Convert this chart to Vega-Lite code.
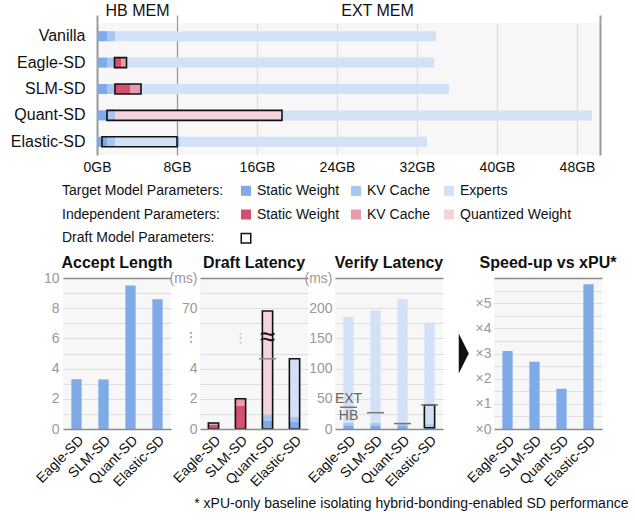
{
  "$schema": "https://vega.github.io/schema/vega-lite/v6.json",
  "padding": {"left": 3, "top": 2, "right": 5, "bottom": 5},
  "config": {
    "font": "Liberation Sans",
    "view": {"stroke": null},
    "title": {"font": "Liberation Sans"},
    "axis": {"labelFont": "Liberation Sans", "labelOverlap": false, "labelBound": false}
  },
  "title": {
    "text": "* xPU-only baseline isolating hybrid-bonding-enabled SD performance",
    "orient": "bottom",
    "anchor": "end",
    "fontSize": 14,
    "fontWeight": "normal",
    "color": "#111111",
    "offset": 8,
    "dx": 12
  },
  "datasets": {
    "memory": [
      {"model": "Vanilla", "part": "Target Static Weight", "start": 0, "end": 1},
      {"model": "Vanilla", "part": "Target KV Cache", "start": 1, "end": 1.8},
      {"model": "Vanilla", "part": "Experts", "start": 1.8, "end": 33.9},
      {"model": "Eagle-SD", "part": "Target Static Weight", "start": 0, "end": 1},
      {"model": "Eagle-SD", "part": "Target KV Cache", "start": 1, "end": 1.75},
      {"model": "Eagle-SD", "part": "Independent Static Weight", "start": 1.75, "end": 2.45},
      {"model": "Eagle-SD", "part": "Independent KV Cache", "start": 2.45, "end": 2.95},
      {"model": "Eagle-SD", "part": "Experts", "start": 2.95, "end": 33.7},
      {"model": "SLM-SD", "part": "Target Static Weight", "start": 0, "end": 1},
      {"model": "SLM-SD", "part": "Target KV Cache", "start": 1, "end": 1.8},
      {"model": "SLM-SD", "part": "Independent Static Weight", "start": 1.8, "end": 3.35},
      {"model": "SLM-SD", "part": "Independent KV Cache", "start": 3.35, "end": 4.4},
      {"model": "SLM-SD", "part": "Experts", "start": 4.4, "end": 35.2},
      {"model": "Quant-SD", "part": "Target Static Weight", "start": 0, "end": 1},
      {"model": "Quant-SD", "part": "Target KV Cache", "start": 1, "end": 1.8},
      {"model": "Quant-SD", "part": "Quantized Weight", "start": 1.8, "end": 18.5},
      {"model": "Quant-SD", "part": "Experts", "start": 18.5, "end": 49.5},
      {"model": "Elastic-SD", "part": "Target Static Weight", "start": 0, "end": 1},
      {"model": "Elastic-SD", "part": "Target KV Cache", "start": 1, "end": 1.8},
      {"model": "Elastic-SD", "part": "Experts", "start": 1.8, "end": 8.0},
      {"model": "Elastic-SD", "part": "Target Static Weight", "start": 8.0, "end": 8.25},
      {"model": "Elastic-SD", "part": "Experts", "start": 8.25, "end": 33.0}
    ],
    "draft_span": [
      {"model": "Eagle-SD", "start": 1.75, "end": 2.95},
      {"model": "SLM-SD", "start": 1.8, "end": 4.4},
      {"model": "Quant-SD", "start": 1.0, "end": 18.5},
      {"model": "Elastic-SD", "start": 0.5, "end": 8.0}
    ],
    "key_rows": [
      {"row": "Target Model Parameters:"},
      {"row": "Independent Parameters:"},
      {"row": "Draft Model Parameters:"}
    ],
    "key_items": [
      {"row": "Target Model Parameters:", "slot": 1, "label": "Static Weight", "part": "Target Static Weight"},
      {"row": "Target Model Parameters:", "slot": 2, "label": "KV Cache", "part": "Target KV Cache"},
      {"row": "Target Model Parameters:", "slot": 3, "label": "Experts", "part": "Experts"},
      {"row": "Independent Parameters:", "slot": 1, "label": "Static Weight", "part": "Independent Static Weight"},
      {"row": "Independent Parameters:", "slot": 2, "label": "KV Cache", "part": "Independent KV Cache"},
      {"row": "Independent Parameters:", "slot": 3, "label": "Quantized Weight", "part": "Quantized Weight"},
      {"row": "Draft Model Parameters:", "slot": 1, "label": "", "part": "Draft"}
    ],
    "accept": [
      {"model": "Eagle-SD", "value": 3.3},
      {"model": "SLM-SD", "value": 3.28},
      {"model": "Quant-SD", "value": 9.5},
      {"model": "Elastic-SD", "value": 8.6}
    ],
    "draft_latency": [
      {"model": "Eagle-SD", "part": "Independent Static Weight", "start": 0, "end": 0.28},
      {"model": "Eagle-SD", "part": "Independent KV Cache", "start": 0.28, "end": 0.4},
      {"model": "SLM-SD", "part": "Independent Static Weight", "start": 0, "end": 1.55},
      {"model": "SLM-SD", "part": "Independent KV Cache", "start": 1.55, "end": 2.0},
      {"model": "Quant-SD", "part": "Target Static Weight", "start": 0, "end": 0.53},
      {"model": "Quant-SD", "part": "Target KV Cache", "start": 0.53, "end": 0.98},
      {"model": "Quant-SD", "part": "Quantized Weight", "start": 0.98, "end": 68},
      {"model": "Elastic-SD", "part": "Target Static Weight", "start": 0, "end": 0.5},
      {"model": "Elastic-SD", "part": "Target KV Cache", "start": 0.5, "end": 0.8},
      {"model": "Elastic-SD", "part": "Experts", "start": 0.8, "end": 4.65}
    ],
    "draft_outline": [
      {"model": "Eagle-SD", "start": 0, "end": 0.4},
      {"model": "SLM-SD", "start": 0, "end": 2.0},
      {"model": "Quant-SD", "start": 0, "end": 68},
      {"model": "Elastic-SD", "start": 0, "end": 4.65}
    ],
    "verify": [
      {"model": "Eagle-SD", "part": "Target Static Weight", "start": 0, "end": 5},
      {"model": "Eagle-SD", "part": "Target KV Cache", "start": 5, "end": 10},
      {"model": "Eagle-SD", "part": "Experts", "start": 10, "end": 186},
      {"model": "SLM-SD", "part": "Target Static Weight", "start": 0, "end": 5},
      {"model": "SLM-SD", "part": "Target KV Cache", "start": 5, "end": 10},
      {"model": "SLM-SD", "part": "Experts", "start": 10, "end": 196},
      {"model": "Quant-SD", "part": "Target Static Weight", "start": 0, "end": 5},
      {"model": "Quant-SD", "part": "Target KV Cache", "start": 5, "end": 9},
      {"model": "Quant-SD", "part": "Experts", "start": 9, "end": 215},
      {"model": "Elastic-SD", "part": "Target Static Weight", "start": 0, "end": 4},
      {"model": "Elastic-SD", "part": "Target KV Cache", "start": 4, "end": 8},
      {"model": "Elastic-SD", "part": "Experts", "start": 8, "end": 176}
    ],
    "verify_split": [
      {"model": "Eagle-SD", "value": 36},
      {"model": "SLM-SD", "value": 27},
      {"model": "Quant-SD", "value": 9},
      {"model": "Elastic-SD", "value": 40}
    ],
    "verify_outline": [
      {"model": "Elastic-SD", "start": 2, "end": 40}
    ],
    "verify_tags": [
      {"model": "Eagle-SD", "value": 36, "tag": "EXT", "side": "above"},
      {"model": "Eagle-SD", "value": 36, "tag": "HB", "side": "below"}
    ],
    "speedup": [
      {"model": "Eagle-SD", "value": 3.1},
      {"model": "SLM-SD", "value": 2.67},
      {"model": "Quant-SD", "value": 1.6},
      {"model": "Elastic-SD", "value": 5.75}
    ],
    "arrow": [{"marker": "next"}],
    "blank": [{"marker": "none"}]
  },
  "concat": [
    {
      "hconcat": [
        {
          "width": 1,
          "height": 1,
          "view": {"stroke": null},
          "data": {"name": "blank"},
          "mark": {"type": "point", "opacity": 0},
          "encoding": {}
        },
        {
          "width": 503,
          "height": 132,
          "view": {"fill": "#f7f7f7", "stroke": null},
          "layer": [
            {
              "data": {"name": "memory"},
              "mark": {"type": "bar"},
              "encoding": {
                "y": {
                  "field": "model", "type": "nominal",
                  "sort": ["Vanilla", "Eagle-SD", "SLM-SD", "Quant-SD", "Elastic-SD"],
                  "scale": {"paddingInner": 0.62, "paddingOuter": 0.31},
                  "axis": {"title": null, "ticks": false, "domain": false, "labelFontSize": 16, "labelColor": "#111111", "labelPadding": 12}
                },
                "x": {
                  "field": "start", "type": "quantitative",
                  "scale": {"domain": [0, 50.3], "nice": false, "zero": false},
                  "axis": {
                    "title": null,
                    "values": [0, 8, 16, 24, 32, 40, 48, 50.3],
                    "tickCount": 100,
                    "labelExpr": "datum.value > 49 ? '' : datum.value + 'GB'",
                    "grid": true,
                    "gridColor": {"condition": {"test": "datum.value == 0 || datum.value == 8 || datum.value > 49", "value": "#9a9a9a"}, "value": "#dedede"},
                    "gridWidth": {"condition": {"test": "datum.value == 0 || datum.value > 49", "value": 2}, "value": 1.3},
                    "ticks": false, "domain": false,
                    "labelFontSize": 14, "labelColor": "#111111", "labelPadding": 5,
                    "labelFlush": false
                  }
                },
                "x2": {"field": "end"},
                "color": {
                  "field": "part", "type": "nominal",
                  "scale": {
                    "domain": ["Target Static Weight", "Target KV Cache", "Experts", "Independent Static Weight", "Independent KV Cache", "Quantized Weight"],
                    "range": ["#7faae8", "#a9c6f0", "#d3e1f7", "#d5506e", "#e89bad", "#f4d3dc"]
                  },
                  "legend": null
                }
              }
            },
            {
              "data": {"name": "draft_span"},
              "mark": {"type": "bar", "filled": false, "stroke": "#111111", "strokeWidth": 1.6},
              "encoding": {
                "y": {"field": "model", "type": "nominal", "sort": ["Vanilla", "Eagle-SD", "SLM-SD", "Quant-SD", "Elastic-SD"]},
                "x": {
                  "field": "start", "type": "quantitative",
                  "axis": {
                    "orient": "top", "title": null,
                    "values": [0, 4, 8, 28, 50.3],
                    "tickCount": 100,
                    "labelExpr": "datum.value == 4 ? 'HB MEM' : datum.value == 28 ? 'EXT MEM' : ''",
                    "ticks": true, "tickSize": 8, "tickColor": "#9a9a9a",
                    "tickWidth": {"condition": {"test": "datum.value == 0 || datum.value > 49", "value": 2}, "value": 1.3},
                    "tickOpacity": {"condition": {"test": "datum.value == 4 || datum.value == 28", "value": 0}, "value": 1},
                    "grid": false, "domain": false,
                    "labelFontSize": 16, "labelColor": "#111111", "labelPadding": -3,
                    "labelFlush": false
                  }
                },
                "x2": {"field": "end"}
              }
            }
          ],
          "resolve": {"axis": {"x": "independent"}}
        }
      ],
      "spacing": 0
    },
    {
      "width": 560,
      "height": 71,
      "view": {"stroke": null},
      "layer": [
        {
          "data": {"name": "key_rows"},
          "mark": {"type": "text", "align": "left", "baseline": "middle", "fontSize": 14, "color": "#111111"},
          "encoding": {
            "x": {"datum": 0, "type": "quantitative", "scale": {"domain": [0, 1, 2, 3], "range": [56, 240, 350, 443], "nice": false, "zero": false}, "axis": null},
            "y": {"field": "row", "type": "nominal", "sort": ["Target Model Parameters:", "Independent Parameters:", "Draft Model Parameters:"], "scale": {"type": "point", "padding": 0.5}, "axis": null},
            "text": {"field": "row"}
          }
        },
        {
          "data": {"name": "key_items"},
          "transform": [{"filter": "datum.part != 'Draft'"}],
          "mark": {"type": "square", "size": 100, "opacity": 1},
          "encoding": {
            "x": {"field": "slot", "type": "quantitative"},
            "y": {"field": "row", "type": "nominal", "sort": ["Target Model Parameters:", "Independent Parameters:", "Draft Model Parameters:"]},
            "color": {
              "field": "part", "type": "nominal",
              "scale": {
                "domain": ["Target Static Weight", "Target KV Cache", "Experts", "Independent Static Weight", "Independent KV Cache", "Quantized Weight"],
                "range": ["#7faae8", "#a9c6f0", "#d3e1f7", "#d5506e", "#e89bad", "#f4d3dc"]
              },
              "legend": null
            }
          }
        },
        {
          "data": {"name": "key_items"},
          "transform": [{"filter": "datum.part == 'Draft'"}],
          "mark": {"type": "square", "size": 90, "filled": true, "fill": "white", "stroke": "#111111", "strokeWidth": 1.5, "opacity": 1},
          "encoding": {
            "x": {"field": "slot", "type": "quantitative"},
            "y": {"field": "row", "type": "nominal", "sort": ["Target Model Parameters:", "Independent Parameters:", "Draft Model Parameters:"]}
          }
        },
        {
          "data": {"name": "key_items"},
          "mark": {"type": "text", "align": "left", "baseline": "middle", "dx": 11, "fontSize": 14, "color": "#111111"},
          "encoding": {
            "x": {"field": "slot", "type": "quantitative"},
            "y": {"field": "row", "type": "nominal", "sort": ["Target Model Parameters:", "Independent Parameters:", "Draft Model Parameters:"]},
            "text": {"field": "label"}
          }
        }
      ]
    },
    {
      "hconcat": [
        {
          "width": 1,
          "height": 1,
          "view": {"stroke": null},
          "data": {"name": "blank"},
          "mark": {"type": "point", "opacity": 0},
          "encoding": {}
        },
        {
          "hconcat": [
            {
              "width": 108,
              "height": 151,
              "view": {"fill": "#f7f7f7", "stroke": null},
              "title": {"text": "Accept Length", "fontSize": 16, "fontWeight": "bold", "anchor": "middle", "offset": 0, "color": "#111111"},
              "data": {"name": "accept"},
              "mark": {"type": "bar", "color": "#7faae8"},
              "encoding": {
                "x": {
                  "field": "model", "type": "nominal",
                  "sort": ["Eagle-SD", "SLM-SD", "Quant-SD", "Elastic-SD"],
                  "scale": {"paddingInner": 0.62, "paddingOuter": 0.31},
                  "axis": {"title": null, "labelAngle": -45, "labelFontSize": 14, "labelColor": "#111111", "ticks": false, "domain": true, "domainColor": "#8a8a8a", "domainWidth": 1.5, "labelPadding": 4, "zindex": 1}
                },
                "y": {
                  "field": "value", "type": "quantitative",
                  "scale": {"domain": [0, 10], "nice": false},
                  "axis": {
                    "title": null,
                    "values": [0, 1, 2, 3, 4, 5, 6, 7, 8, 9, 10],
                    "tickCount": 100,
                    "labelExpr": "datum.value % 2 == 0 ? '' + datum.value : ''",
                    "grid": true,
                    "gridColor": {"condition": {"test": "datum.value == 10", "value": "#8a8a8a"}, "value": "#dedede"},
                    "gridWidth": {"condition": {"test": "datum.value == 10", "value": 1.5}, "value": 1.2},
                    "ticks": false, "domain": false,
                    "labelFontSize": 14, "labelColor": "#999999", "labelPadding": 4,
                    "minExtent": 39
                  }
                }
              }
            },
            {
              "width": 108,
              "height": 151,
              "view": {"fill": "#f7f7f7", "stroke": null},
              "title": {"text": "Draft Latency", "fontSize": 16, "fontWeight": "bold", "anchor": "middle", "offset": 0, "color": "#111111"},
              "layer": [
                {
                  "data": {"name": "draft_latency"},
                  "mark": {"type": "bar"},
                  "encoding": {
                    "x": {
                      "field": "model", "type": "nominal",
                      "sort": ["Eagle-SD", "SLM-SD", "Quant-SD", "Elastic-SD"],
                      "scale": {"paddingInner": 0.62, "paddingOuter": 0.31},
                      "axis": {"title": null, "labelAngle": -45, "labelFontSize": 14, "labelColor": "#111111", "ticks": false, "domain": true, "domainColor": "#8a8a8a", "domainWidth": 1.5, "labelPadding": 4, "zindex": 1}
                    },
                    "y": {
                      "field": "start", "type": "quantitative",
                      "scale": {"domain": [0, 5, 60, 90], "range": [151, 75.5, 45, 0], "nice": false, "zero": false},
                      "axis": {
                        "title": null,
                        "values": [0, 1, 2, 3, 4, 5, 33, 60, 70, 80, 90],
                        "tickCount": 100,
                        "labelExpr": "datum.value == 90 ? '(ms)' : datum.value == 70 ? '70' : datum.value == 33 ? '⋮' : (datum.value == 0 || datum.value == 2 || datum.value == 4) ? '' + datum.value : ''",
                        "grid": true,
                        "gridColor": {"condition": {"test": "datum.value == 90", "value": "#8a8a8a"}, "value": "#dedede"},
                        "gridWidth": {"condition": {"test": "datum.value == 90", "value": 1.5}, "value": 1.2},
                        "gridOpacity": {"condition": {"test": "datum.value == 33", "value": 0}, "value": 1},
                        "ticks": false, "domain": false,
                        "labelFontSize": 14, "labelColor": "#999999", "labelPadding": 3
                      }
                    },
                    "y2": {"field": "end"},
                    "color": {
                      "field": "part", "type": "nominal",
                      "scale": {
                        "domain": ["Target Static Weight", "Target KV Cache", "Experts", "Independent Static Weight", "Independent KV Cache", "Quantized Weight"],
                        "range": ["#7faae8", "#a9c6f0", "#d3e1f7", "#d5506e", "#e89bad", "#f4d3dc"]
                      },
                      "legend": null
                    }
                  }
                },
                {
                  "data": {"name": "draft_outline"},
                  "mark": {"type": "bar", "filled": false, "stroke": "#111111", "strokeWidth": 1.6},
                  "encoding": {
                    "x": {"field": "model", "type": "nominal", "sort": ["Eagle-SD", "SLM-SD", "Quant-SD", "Elastic-SD"]},
                    "y": {"field": "start", "type": "quantitative"},
                    "y2": {"field": "end"}
                  }
                },
                {
                  "data": {"values": [{"model": "Quant-SD", "value": 4.65}]},
                  "mark": {"type": "tick", "size": 17, "thickness": 1.5, "color": "#8a8a8a", "opacity": 1},
                  "encoding": {
                    "x": {"field": "model", "type": "nominal", "sort": ["Eagle-SD", "SLM-SD", "Quant-SD", "Elastic-SD"]},
                    "y": {"field": "value", "type": "quantitative"}
                  }
                },
                {
                  "data": {"values": [{"model": "Quant-SD", "value": 33, "glyph": "≈"}]},
                  "mark": {"type": "text", "fontSize": 28, "color": "#111111", "baseline": "middle", "align": "center"},
                  "encoding": {
                    "x": {"field": "model", "type": "nominal", "sort": ["Eagle-SD", "SLM-SD", "Quant-SD", "Elastic-SD"]},
                    "y": {"field": "value", "type": "quantitative"},
                    "text": {"field": "glyph"}
                  }
                },
                {
                  "data": {"values": [{"model": "SLM-SD", "value": 33, "glyph": "⋮"}]},
                  "mark": {"type": "text", "fontSize": 13, "color": "#c4c4c4", "baseline": "middle", "align": "center"},
                  "encoding": {
                    "x": {"field": "model", "type": "nominal", "sort": ["Eagle-SD", "SLM-SD", "Quant-SD", "Elastic-SD"]},
                    "y": {"field": "value", "type": "quantitative"},
                    "text": {"field": "glyph"}
                  }
                }
              ]
            },
            {
              "width": 108,
              "height": 151,
              "view": {"fill": "#f7f7f7", "stroke": null},
              "title": {"text": "Verify Latency", "fontSize": 16, "fontWeight": "bold", "anchor": "middle", "offset": 0, "color": "#111111"},
              "layer": [
                {
                  "data": {"name": "verify"},
                  "mark": {"type": "bar"},
                  "encoding": {
                    "x": {
                      "field": "model", "type": "nominal",
                      "sort": ["Eagle-SD", "SLM-SD", "Quant-SD", "Elastic-SD"],
                      "scale": {"paddingInner": 0.62, "paddingOuter": 0.31},
                      "axis": {"title": null, "labelAngle": -45, "labelFontSize": 14, "labelColor": "#111111", "ticks": false, "domain": true, "domainColor": "#8a8a8a", "domainWidth": 1.5, "labelPadding": 4, "zindex": 1}
                    },
                    "y": {
                      "field": "start", "type": "quantitative",
                      "scale": {"domain": [0, 250], "nice": false},
                      "axis": {
                        "title": null,
                        "values": [0, 25, 50, 75, 100, 125, 150, 175, 200, 225, 250],
                        "tickCount": 100,
                        "labelExpr": "datum.value == 250 ? '(ms)' : datum.value % 50 == 0 ? '' + datum.value : ''",
                        "grid": true,
                        "gridColor": {"condition": {"test": "datum.value == 250", "value": "#8a8a8a"}, "value": "#dedede"},
                        "gridWidth": {"condition": {"test": "datum.value == 250", "value": 1.5}, "value": 1.2},
                        "ticks": false, "domain": false,
                        "labelFontSize": 14, "labelColor": "#999999", "labelPadding": 3
                      }
                    },
                    "y2": {"field": "end"},
                    "color": {
                      "field": "part", "type": "nominal",
                      "scale": {
                        "domain": ["Target Static Weight", "Target KV Cache", "Experts", "Independent Static Weight", "Independent KV Cache", "Quantized Weight"],
                        "range": ["#7faae8", "#a9c6f0", "#d3e1f7", "#d5506e", "#e89bad", "#f4d3dc"]
                      },
                      "legend": null
                    }
                  }
                },
                {
                  "data": {"name": "verify_outline"},
                  "mark": {"type": "bar", "filled": false, "stroke": "#111111", "strokeWidth": 1.6},
                  "encoding": {
                    "x": {"field": "model", "type": "nominal", "sort": ["Eagle-SD", "SLM-SD", "Quant-SD", "Elastic-SD"]},
                    "y": {"field": "start", "type": "quantitative"},
                    "y2": {"field": "end"}
                  }
                },
                {
                  "data": {"name": "verify_split"},
                  "mark": {"type": "tick", "size": 17, "thickness": 1.5, "color": "#777777", "opacity": 1},
                  "encoding": {
                    "x": {"field": "model", "type": "nominal", "sort": ["Eagle-SD", "SLM-SD", "Quant-SD", "Elastic-SD"]},
                    "y": {"field": "value", "type": "quantitative"}
                  }
                },
                {
                  "data": {"name": "verify_tags"},
                  "transform": [{"filter": "datum.side == 'above'"}],
                  "mark": {"type": "text", "fontSize": 14, "color": "#666666", "baseline": "bottom", "align": "center", "dy": -1},
                  "encoding": {
                    "x": {"field": "model", "type": "nominal", "sort": ["Eagle-SD", "SLM-SD", "Quant-SD", "Elastic-SD"]},
                    "y": {"field": "value", "type": "quantitative"},
                    "text": {"field": "tag"}
                  }
                },
                {
                  "data": {"name": "verify_tags"},
                  "transform": [{"filter": "datum.side == 'below'"}],
                  "mark": {"type": "text", "fontSize": 14, "color": "#666666", "baseline": "top", "align": "center", "dy": 2},
                  "encoding": {
                    "x": {"field": "model", "type": "nominal", "sort": ["Eagle-SD", "SLM-SD", "Quant-SD", "Elastic-SD"]},
                    "y": {"field": "value", "type": "quantitative"},
                    "text": {"field": "tag"}
                  }
                }
              ]
            }
          ],
          "spacing": -4
        },
        {
          "width": 108,
          "height": 151,
          "view": {"fill": "#f7f7f7", "stroke": null},
          "title": {"text": "Speed-up vs xPU*", "fontSize": 16, "fontWeight": "bold", "anchor": "middle", "offset": 0, "color": "#111111"},
          "layer": [
            {
              "data": {"name": "speedup"},
              "mark": {"type": "bar", "color": "#7faae8"},
              "encoding": {
                "x": {
                  "field": "model", "type": "nominal",
                  "sort": ["Eagle-SD", "SLM-SD", "Quant-SD", "Elastic-SD"],
                  "scale": {"paddingInner": 0.62, "paddingOuter": 0.31},
                  "axis": {"title": null, "labelAngle": -45, "labelFontSize": 14, "labelColor": "#111111", "ticks": false, "domain": true, "domainColor": "#8a8a8a", "domainWidth": 1.5, "labelPadding": 4, "zindex": 1}
                },
                "y": {
                  "field": "value", "type": "quantitative",
                  "scale": {"domain": [0, 6], "nice": false},
                  "axis": {
                    "title": null,
                    "values": [0, 0.5, 1, 1.5, 2, 2.5, 3, 3.5, 4, 4.5, 5, 5.5, 6],
                    "tickCount": 100,
                    "labelExpr": "datum.value % 1 == 0 && datum.value < 6 ? '×' + datum.value : ''",
                    "grid": true,
                    "gridColor": {"condition": {"test": "datum.value == 6", "value": "#8a8a8a"}, "value": "#dedede"},
                    "gridWidth": {"condition": {"test": "datum.value == 6", "value": 1.5}, "value": 1.2},
                    "ticks": false, "domain": false,
                    "labelFontSize": 14, "labelColor": "#999999", "labelPadding": 3
                  }
                }
              }
            },
            {
              "data": {"name": "arrow"},
              "mark": {"type": "point", "shape": "M-0.25,-1L0.25,0L-0.25,1Z", "size": 1600, "filled": true, "color": "#111111", "opacity": 1},
              "encoding": {
                "x": {"datum": -0.28, "type": "quantitative", "scale": {"domain": [0, 1], "nice": false, "zero": false}, "axis": null},
                "y": {"datum": 3, "type": "quantitative"}
              }
            }
          ],
          "resolve": {"scale": {"x": "independent"}, "axis": {"x": "independent"}}
        }
      ],
      "spacing": 14
    }
  ],
  "columns": 1,
  "spacing": 5
}
